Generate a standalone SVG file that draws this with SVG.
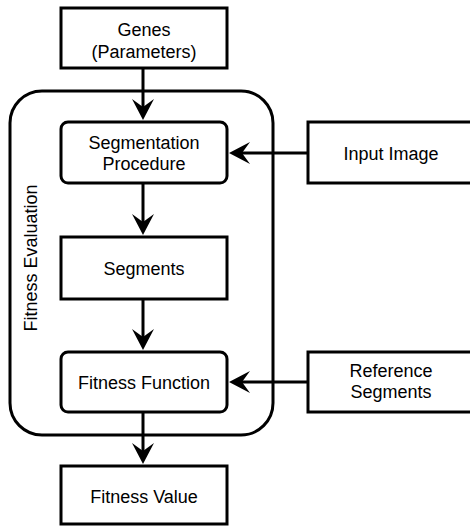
<svg xmlns="http://www.w3.org/2000/svg" width="470" height="526" viewBox="0 0 470 526">
<style>
.box{fill:#fff;stroke:#000;stroke-width:3}
.t{font-family:"Liberation Sans",Arial,sans-serif;font-size:18px;fill:#000;text-anchor:middle}
.c{fill:none;stroke:#000;stroke-width:3}
</style>
<defs>
<marker id="ah" markerUnits="userSpaceOnUse" viewBox="-8 0 21 22" refX="0" refY="11" markerWidth="21" markerHeight="22" orient="auto">
<path d="M-8,0 L13,11 L-8,22 L0,11 Z" fill="#000"/>
</marker>
</defs>
<g id="fitness-evaluation">
<rect class="box" x="10" y="91" width="263" height="344" rx="32" ry="32" fill="none"/>
<text class="t" transform="translate(37,258) rotate(-90)">Fitness Evaluation</text>
</g>
<g id="genes">
<rect class="box" x="61" y="8" width="166" height="60"/>
<text class="t" x="144" y="36">Genes</text>
<text class="t" x="144" y="58">(Parameters)</text>
</g>
<g id="segmentation-procedure">
<rect class="box" x="61" y="122" width="166" height="61" rx="7" ry="7"/>
<text class="t" x="144" y="149">Segmentation</text>
<text class="t" x="144" y="170">Procedure</text>
</g>
<g id="input-image">
<rect class="box" x="308" y="122" width="166" height="61"/>
<text class="t" x="391" y="160">Input Image</text>
</g>
<g id="segments">
<rect class="box" x="61" y="237" width="166" height="62"/>
<text class="t" x="144" y="275">Segments</text>
</g>
<g id="fitness-function">
<rect class="box" x="61" y="352" width="166" height="60" rx="7" ry="7"/>
<text class="t" x="144" y="389">Fitness Function</text>
</g>
<g id="reference-segments">
<rect class="box" x="308" y="352" width="166" height="60"/>
<text class="t" x="391" y="377">Reference</text>
<text class="t" x="391" y="398">Segments</text>
</g>
<g id="fitness-value">
<rect class="box" x="61" y="466" width="166" height="58"/>
<text class="t" x="144" y="503">Fitness Value</text>
</g>
<g id="connectors">
<path class="c" d="M143,68 V107" marker-end="url(#ah)"/>
<path class="c" d="M143,183 V222" marker-end="url(#ah)"/>
<path class="c" d="M143,299 V337" marker-end="url(#ah)"/>
<path class="c" d="M143,412 V451" marker-end="url(#ah)"/>
<path class="c" d="M308,153 H242" marker-end="url(#ah)"/>
<path class="c" d="M308,382 H242" marker-end="url(#ah)"/>
</g>
</svg>
